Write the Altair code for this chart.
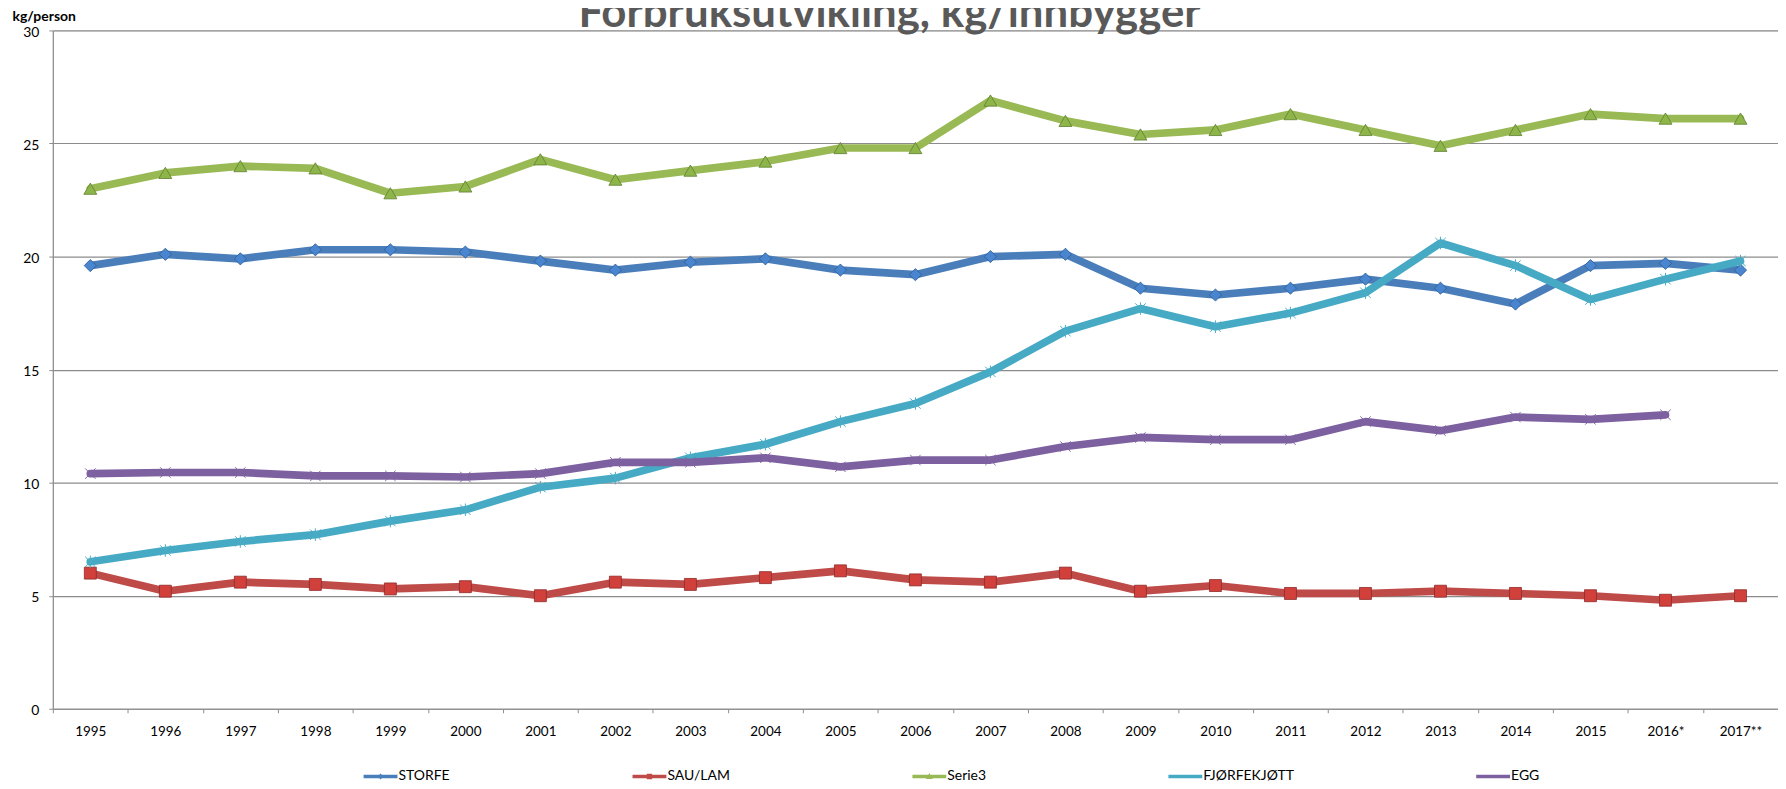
import altair as alt
import pandas as pd

FONT = "Lato, Liberation Sans, sans-serif"

title_text = ["Forbruksutvikling, kg/innbygger"]

years = ["1995", "1996", "1997", "1998", "1999", "2000", "2001", "2002", "2003",
         "2004", "2005", "2006", "2007", "2008", "2009", "2010", "2011", "2012",
         "2013", "2014", "2015", "2016*", "2017**"]

series = ["STORFE", "SAU/LAM", "Serie3", "FJØRFEKJØTT", "EGG"]

storfe = [19.6, 20.1, 19.9, 20.3, 20.3, 20.2, 19.8, 19.4, 19.75, 19.9, 19.4, 19.2,
          20.0, 20.1, 18.6, 18.3, 18.6, 19.0, 18.6, 17.9, 19.6, 19.7, 19.4]
sau_lam = [6.0, 5.2, 5.6, 5.5, 5.3, 5.4, 5.0, 5.6, 5.5, 5.8, 6.1, 5.7,
           5.6, 6.0, 5.2, 5.45, 5.1, 5.1, 5.2, 5.1, 5.0, 4.8, 5.0]
serie3 = [23.0, 23.7, 24.0, 23.9, 22.8, 23.1, 24.3, 23.4, 23.8, 24.2, 24.8, 24.8,
          26.9, 26.0, 25.4, 25.6, 26.3, 25.6, 24.9, 25.6, 26.3, 26.1, 26.1]
fjorfe = [6.5, 7.0, 7.4, 7.7, 8.3, 8.8, 9.8, 10.2, 11.1, 11.7, 12.7, 13.5,
          14.9, 16.7, 17.7, 16.9, 17.5, 18.4, 20.6, 19.6, 18.1, 19.0, 19.8]
egg = [10.4, 10.45, 10.45, 10.3, 10.3, 10.25, 10.4, 10.9, 10.9, 11.1, 10.7, 11.0,
       11.0, 11.6, 12.0, 11.9, 11.9, 12.7, 12.3, 12.9, 12.8, 13.0, None]

line_colors = ["#4A7EBB", "#BE4B48", "#98B954", "#46AAC5", "#7D60A0"]

rows = []
for name, vals in zip(series, [storfe, sau_lam, serie3, fjorfe, egg]):
    for yr, v in zip(years, vals):
        if v is not None:
            rows.append({"year": yr, "series": name, "value": v})
df = pd.DataFrame(rows)

GRID = "#8C8C8C"

x_enc = alt.X(
    "year:N", sort=years,
    scale=alt.Scale(type="band", domain=years, paddingInner=0, paddingOuter=0),
    axis=alt.Axis(title=None, tickBand="extent", grid=False, labelAngle=0,
                  labelFont=FONT, labelFontSize=13.5, labelColor="#000000",
                  labelPadding=12, tickSize=4, tickColor=GRID, domainColor=GRID,
                  domainWidth=1.2, labelBaseline="top"),
)
y_enc = alt.Y(
    "value:Q",
    scale=alt.Scale(domain=[0, 30], nice=False, zero=True),
    axis=alt.Axis(values=[0, 5, 10, 15, 20, 25, 30], grid=True, gridColor=GRID,
                  gridWidth=1.2, domainColor=GRID, domainWidth=1.2, tickColor=GRID,
                  tickSize=4, labelFont=FONT, labelFontSize=14, labelColor="#000000",
                  labelPadding=10, labelOffset=2,
                  title="kg/person", titleAngle=0, titleAlign="left",
                  titleBaseline="middle", titleX=-41, titleY=-14,
                  titleFont=FONT, titleFontSize=14, titleFontWeight="bold",
                  titleColor="#000000"),
)

base = alt.Chart(df).encode(x=x_enc, y=y_enc)

marker_specs = {
    "STORFE": dict(shape="diamond", size=150, filled=True, fill="#4A86D0",
                   stroke="#2B5C95", strokeWidth=0.8),
    "SAU/LAM": dict(shape="square", size=144, filled=True, fill="#D2403C",
                    stroke="#8C2A28", strokeWidth=0.8),
    "Serie3": dict(shape="triangle-up", size=169, filled=True, fill="#8DB54A",
                   stroke="#5F7F2E", strokeWidth=0.8),
    "FJØRFEKJØTT": dict(shape="M-1,-1L1,1M-1,1L1,-1M0,-1.2L0,1.2", size=110,
                        filled=False, stroke="#4BACC6", strokeWidth=1),
    "EGG": dict(shape="M-1,-1L1,1M-1,1L1,-1", size=110, filled=False,
                stroke="#8064A2", strokeWidth=1),
}

layers = []
for name, col in zip(series, line_colors):
    sub = base.transform_filter(alt.datum.series == name)
    layers.append(sub.mark_line(color=col, strokeWidth=7.7, strokeCap="round",
                                strokeJoin="round"))
    layers.append(sub.mark_point(opacity=1, **marker_specs[name]))

# legend symbols: thick bar with the series marker in the middle
legend_paths = [
    "M-1,-0.1L1,-0.1L1,0.1L-1,0.1Z M0,-0.18L0.18,0L0,0.18L-0.18,0Z",
    "M-1,-0.1L1,-0.1L1,0.1L-1,0.1Z M-0.16,-0.16L0.16,-0.16L0.16,0.16L-0.16,0.16Z",
    "M-1,-0.1L1,-0.1L1,0.1L-1,0.1Z M0,-0.2L0.2,0.15L-0.2,0.15Z",
    "M-1,-0.1L1,-0.1L1,0.1L-1,0.1Z",
    "M-1,-0.1L1,-0.1L1,0.1L-1,0.1Z",
]

leg_kwargs = dict(
    orient="none", legendX=312, legendY=732, direction="horizontal", columns=5,
    title=None, symbolSize=1156, symbolStrokeWidth=0, symbolOpacity=1,
    labelFont=FONT, labelFontSize=14, labelColor="#000000", labelOffset=1,
    columnPadding=183, padding=0, gridAlign="each",
)

legend_layer = alt.Chart(df).transform_filter("datum.value < -1000").mark_point(
    filled=True, size=1156, strokeWidth=0, opacity=1
).encode(
    color=alt.Color("series:N", sort=series,
                    scale=alt.Scale(domain=series, range=line_colors),
                    legend=alt.Legend(**leg_kwargs)),
    shape=alt.Shape("series:N", sort=series,
                    scale=alt.Scale(domain=series, range=legend_paths),
                    legend=alt.Legend(**leg_kwargs)),
)

title_layer = alt.Chart(pd.DataFrame({"t": title_text})).mark_text(
    font=FONT, fontSize=44, fontWeight="bold", color="#595959",
    align="center", baseline="alphabetic",
).encode(text="t:N", x=alt.value(840), y=alt.value(-3))

chart = alt.layer(*layers, legend_layer, title_layer).properties(
    width=1732,
    height=681,
    autosize=alt.AutoSizeParams(type="none"),
    padding={"left": 45, "top": 21, "right": 0, "bottom": 79},
).configure_view(stroke=None).configure(background="white")

chart.save("out.html", embed_options={"renderer": "svg", "actions": False})
